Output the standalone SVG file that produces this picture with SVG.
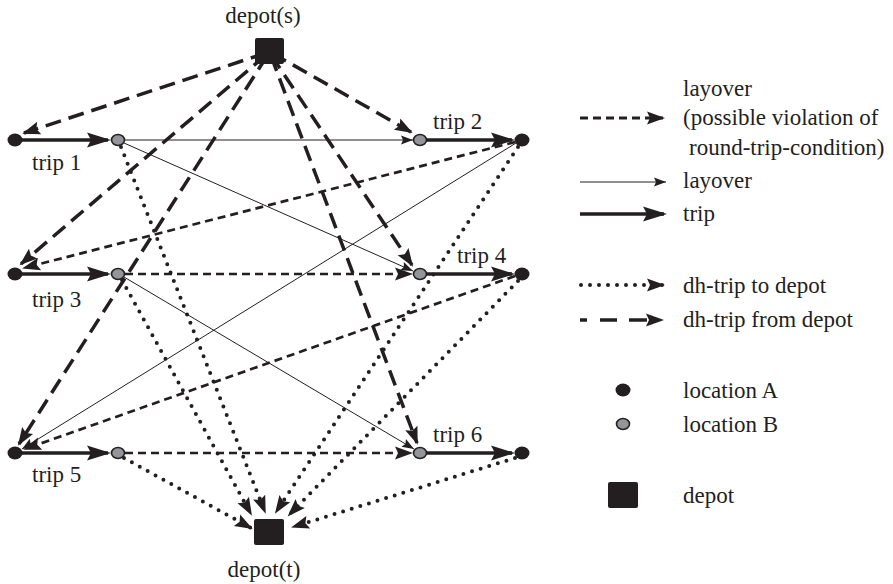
<svg xmlns="http://www.w3.org/2000/svg" width="893" height="584" viewBox="0 0 893 584">
<style>
text{font-family:"Liberation Serif","Times New Roman",serif;font-size:23px;fill:#231f20}
.trip{stroke:#231f20;stroke-width:3.6;fill:none;marker-end:url(#mTrip)}
.thin{stroke:#231f20;stroke-width:1;fill:none;marker-end:url(#mThin)}
.sd{stroke:#231f20;stroke-width:2.7;stroke-dasharray:8 5;fill:none;marker-end:url(#mMid)}
.ld{stroke:#231f20;stroke-width:3.5;stroke-dasharray:16 8;fill:none;marker-end:url(#mMid)}
.dot{stroke:#231f20;stroke-width:4;stroke-dasharray:0 9;stroke-linecap:round;fill:none;marker-end:url(#mMid)}
.locA{fill:#231f20}
.locB{fill:#939598;stroke:#231f20;stroke-width:1.6}
.depot{fill:#231f20}
</style>
<defs>
<marker id="mTrip" markerUnits="userSpaceOnUse" markerWidth="26" markerHeight="16" refX="21" refY="7.5" orient="auto" overflow="visible"><path d="M0,0 L24,7.5 L0,15 L4,7.5 z" fill="#231f20"/></marker>
<marker id="mMid" markerUnits="userSpaceOnUse" markerWidth="19" markerHeight="13" refX="16" refY="6.5" orient="auto" overflow="visible"><path d="M0,0 L18,6.5 L0,13 L3,6.5 z" fill="#231f20"/></marker>
<marker id="mThin" markerUnits="userSpaceOnUse" markerWidth="13" markerHeight="9" refX="12" refY="4.5" orient="auto" overflow="visible"><path d="M0,0 L12,4.5 L0,9 L2,4.5 z" fill="#231f20"/></marker>
</defs>
<rect width="893" height="584" fill="#ffffff"/>
<g id="connectors">
<path class="ld" d="M266,53 L24,133"/>
<path class="ld" d="M272,53 L411,132"/>
<path class="ld" d="M266,55 L21,264"/>
<path class="ld" d="M271,55 L412,265"/>
<path class="ld" d="M267,56 L19,444"/>
<path class="ld" d="M271,56 L417,443"/>
<path class="dot" d="M121,147 L265,512"/>
<path class="dot" d="M122,280 L251,514"/>
<path class="dot" d="M124,458 L251,528"/>
<path class="dot" d="M518,147 L276,512"/>
<path class="dot" d="M518,281 L289,515"/>
<path class="dot" d="M515,458 L293,527"/>
<path class="thin" d="M125,140 H413"/>
<path class="thin" d="M124,143 L413,271"/>
<path class="thin" d="M124,277 L414,449"/>
<path class="thin" d="M516,143 L22,449"/>
<path class="sd" d="M515,142 L24,268"/>
<path class="sd" d="M125,274 H411"/>
<path class="sd" d="M515,276 L25,449"/>
<path class="sd" d="M125,453 H411"/>
<path class="trip" d="M15,140 H108"/>
<path class="trip" d="M420,140 H512"/>
<path class="trip" d="M15,274 H108"/>
<path class="trip" d="M420,274 H512"/>
<path class="trip" d="M15,453 H108"/>
<path class="trip" d="M420,453 H512"/>
</g>
<g id="depot-s"><rect class="depot" x="255" y="38" width="29" height="26" rx="2"/><text x="263" y="23" text-anchor="middle">depot(s)</text></g>
<g id="depot-t"><rect class="depot" x="254" y="519" width="30" height="26" rx="2"/><text x="264" y="577" text-anchor="middle">depot(t)</text></g>
<g id="trip1-A"><ellipse class="locA" cx="15" cy="140" rx="7.5" ry="6.5"/><text x="32" y="170">trip 1</text></g>
<g id="trip1-B"><ellipse class="locB" cx="118" cy="140" rx="6.5" ry="5.5"/></g>
<g id="trip2-B"><ellipse class="locB" cx="420" cy="140" rx="6.5" ry="5.5"/><text x="433" y="129">trip 2</text></g>
<g id="trip2-A"><ellipse class="locA" cx="522" cy="140" rx="7.5" ry="6.5"/></g>
<g id="trip3-A"><ellipse class="locA" cx="15" cy="274" rx="7.5" ry="6.5"/><text x="32" y="307">trip 3</text></g>
<g id="trip3-B"><ellipse class="locB" cx="118" cy="274" rx="6.5" ry="5.5"/></g>
<g id="trip4-B"><ellipse class="locB" cx="420" cy="274" rx="6.5" ry="5.5"/><text x="457" y="263">trip 4</text></g>
<g id="trip4-A"><ellipse class="locA" cx="522" cy="274" rx="7.5" ry="6.5"/></g>
<g id="trip5-A"><ellipse class="locA" cx="15" cy="453" rx="7.5" ry="6.5"/><text x="32" y="482">trip 5</text></g>
<g id="trip5-B"><ellipse class="locB" cx="118" cy="453" rx="6.5" ry="5.5"/></g>
<g id="trip6-B"><ellipse class="locB" cx="420" cy="453" rx="6.5" ry="5.5"/><text x="433" y="442">trip 6</text></g>
<g id="trip6-A"><ellipse class="locA" cx="522" cy="453" rx="7.5" ry="6.5"/></g>
<g id="legend">
<path class="sd" d="M580,118 H663" style="stroke-width:2.8"/>
<text x="683" y="96">layover</text>
<text x="683" y="125">(possible violation of</text>
<text x="689" y="155">round-trip-condition)</text>
<path class="thin" d="M580,182 H666"/>
<text x="683" y="188">layover</text>
<path class="trip" d="M580,214 H664"/>
<text x="683" y="221">trip</text>
<path class="dot" d="M581,285 H663"/>
<text x="683" y="293">dh-trip to depot</text>
<path class="ld" d="M580,320 H662" style="stroke-dasharray:7 13 17 12 18 50"/>
<text x="683" y="327">dh-trip from depot</text>
<ellipse class="locA" cx="623" cy="390" rx="7.5" ry="6.5"/>
<text x="683" y="398">location A</text>
<ellipse class="locB" cx="623" cy="424" rx="6.5" ry="5.5"/>
<text x="683" y="432">location B</text>
<rect class="depot" x="608" y="482" width="30" height="26" rx="2"/>
<text x="683" y="503">depot</text>
</g>
</svg>
